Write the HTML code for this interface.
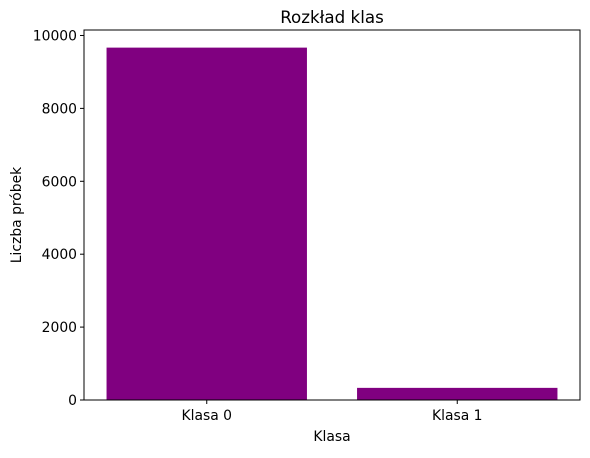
<!DOCTYPE html>
<html><head><meta charset="utf-8"><style>
body{margin:0;background:#fff;}
svg text{font-family:"DejaVu Sans","Liberation Sans",sans-serif;fill:#000;}
</style></head><body>
<svg id="chart" width="590" height="453">
<text x="332" y="23" font-size="16.7" text-anchor="middle">Rozkład klas</text>
<g id="plot"></g>
<text x="332" y="441" font-size="13.9" text-anchor="middle">Klasa</text>
<text transform="translate(21,215) rotate(-90)" font-size="13.9" text-anchor="middle">Liczba próbek</text>
</svg>
<script>
const categories = ["Klasa 0", "Klasa 1"];
const counts = [9667, 333];
const yTicks = [0, 2000, 4000, 6000, 8000, 10000];

const L = 84, R = 580, T = 30, B = 400;
const ns = "http://www.w3.org/2000/svg";
const g = document.getElementById("plot");
const maxV = Math.max(...counts) * 1.05;
const xmin = -0.49, xmax = categories.length - 1 + 0.49;
const xs = v => L + (v - xmin) / (xmax - xmin) * (R - L);
const ys = v => B - v / maxV * (B - T);
function mk(tag, attrs) { const e = document.createElementNS(ns, tag); for (const k in attrs) e.setAttribute(k, attrs[k]); g.appendChild(e); return e; }

counts.forEach((c, i) => {
  const r = mk("rect", {x: xs(i - 0.4), y: ys(c), width: xs(i + 0.4) - xs(i - 0.4), height: B - ys(c), fill: "#800080"});
  
  
  const t = mk("line", {x1: xs(i), x2: xs(i), y1: B, y2: B + 4, stroke: "#000", "stroke-width": 1});
  
  
  const lb = mk("text", {x: xs(i), y: B + 20, "font-size": 13.9, "text-anchor": "middle"});
  lb.textContent = categories[i];
  
  
});
yTicks.forEach(v => {
  const t = mk("line", {x1: L - 4, x2: L, y1: ys(v), y2: ys(v), stroke: "#000", "stroke-width": 1});
  
  
  const lb = mk("text", {x: L - 7, y: ys(v) + 5, "font-size": 13.9, "text-anchor": "end"});
  lb.textContent = v;
  
  
});
const f = mk("rect", {x: L, y: T, width: R - L, height: B - T, fill: "none", stroke: "#000", "stroke-width": 1});


</script>
</body></html>
